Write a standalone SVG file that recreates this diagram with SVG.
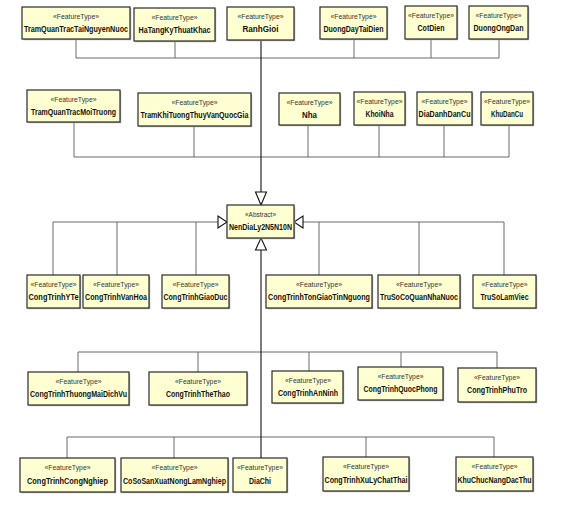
<svg xmlns="http://www.w3.org/2000/svg" width="576" height="507" viewBox="0 0 576 507">
<style>
.box{fill:#FFFFD2;stroke:#2a2a2a;stroke-width:1.2}
.sh{fill:#b0b0b0}
.st{font-family:"Liberation Sans Narrow","Arial Narrow","Liberation Sans",sans-serif;font-size:8px;fill:#333;text-anchor:middle}
.nm{font-family:"Liberation Sans Narrow","Arial Narrow","Liberation Sans",sans-serif;font-size:9.5px;font-weight:bold;fill:#111;text-anchor:middle}
.ln{fill:none;stroke:#6a6a6a;stroke-width:1}
.tr{fill:none;stroke:#111;stroke-width:1.1}
.ah{fill:#fff;stroke:#111;stroke-width:1.1}
</style>
<rect width="576" height="507" fill="#fff"/>
<g id="connectors">
<path class="ln" d="M76 39V58H499M175 41V58M354 39V58M431 39V58M499 39V58"/>
<path class="ln" d="M74 122V157H509M194 126V157M308 125V157M379 125V157M444 125V157M509 125V157"/>
<path class="ln" d="M53 275V222H218M117 275V222M196 275V222M303 222H504V275M319 222V275M419 222V275"/>
<path class="ln" d="M78 372V352H497V368M198 372V352M309 371V352M401 367V352"/>
<path class="ln" d="M67 458V437H494V457M174 458V437M366 457V437"/>
<path class="tr" d="M261 40V192M261 250V458"/>
<polygon class="ah" points="255.5,192 266.5,192 261,205"/>
<polygon class="ah" points="255.5,250 266.5,250 261,238"/>
<polygon class="ah" points="218,216 218,228 227,222"/>
<polygon class="ah" points="303,216 303,228 294,222"/>
</g>
<g id="TramQuanTracTaiNguyenNuoc"><rect class="sh" x="23.2" y="8.2" width="108" height="32"/><rect class="box" x="22" y="7" width="108" height="32"/><text class="st" x="76" y="18.5" textLength="46" lengthAdjust="spacingAndGlyphs">«FeatureType»</text><text class="nm" x="76" y="32" textLength="104" lengthAdjust="spacingAndGlyphs">TramQuanTracTaiNguyenNuoc</text></g>
<g id="HaTangKyThuatKhac"><rect class="sh" x="135.2" y="9.2" width="81" height="33"/><rect class="box" x="134" y="8" width="81" height="33"/><text class="st" x="174.5" y="19.5" textLength="46" lengthAdjust="spacingAndGlyphs">«FeatureType»</text><text class="nm" x="174.5" y="33" textLength="72" lengthAdjust="spacingAndGlyphs">HaTangKyThuatKhac</text></g>
<g id="RanhGioi"><rect class="sh" x="228.2" y="8.2" width="67" height="33"/><rect class="box" x="227" y="7" width="67" height="33"/><text class="st" x="260.5" y="18.5" textLength="46" lengthAdjust="spacingAndGlyphs">«FeatureType»</text><text class="nm" x="260.5" y="32" textLength="36" lengthAdjust="spacingAndGlyphs">RanhGioi</text></g>
<g id="DuongDayTaiDien"><rect class="sh" x="321.2" y="8.2" width="67" height="32"/><rect class="box" x="320" y="7" width="67" height="32"/><text class="st" x="353.5" y="18.5" textLength="46" lengthAdjust="spacingAndGlyphs">«FeatureType»</text><text class="nm" x="353.5" y="32" textLength="60" lengthAdjust="spacingAndGlyphs">DuongDayTaiDien</text></g>
<g id="CotDien"><rect class="sh" x="406.2" y="7.2" width="52" height="33"/><rect class="box" x="405" y="6" width="52" height="33"/><text class="st" x="431" y="17.5" textLength="46" lengthAdjust="spacingAndGlyphs">«FeatureType»</text><text class="nm" x="431" y="31" textLength="27" lengthAdjust="spacingAndGlyphs">CotDien</text></g>
<g id="DuongOngDan"><rect class="sh" x="470.2" y="7.2" width="59" height="33"/><rect class="box" x="469" y="6" width="59" height="33"/><text class="st" x="498.5" y="17.5" textLength="46" lengthAdjust="spacingAndGlyphs">«FeatureType»</text><text class="nm" x="498.5" y="31" textLength="50" lengthAdjust="spacingAndGlyphs">DuongOngDan</text></g>
<g id="TramQuanTracMoiTruong"><rect class="sh" x="28.2" y="91.2" width="93" height="32"/><rect class="box" x="27" y="90" width="93" height="32"/><text class="st" x="73.5" y="101.5" textLength="46" lengthAdjust="spacingAndGlyphs">«FeatureType»</text><text class="nm" x="73.5" y="115" textLength="85" lengthAdjust="spacingAndGlyphs">TramQuanTracMoiTruong</text></g>
<g id="TramKhiTuongThuyVanQuocGia"><rect class="sh" x="139.2" y="94.2" width="113" height="33"/><rect class="box" x="138" y="93" width="113" height="33"/><text class="st" x="194.5" y="104.5" textLength="46" lengthAdjust="spacingAndGlyphs">«FeatureType»</text><text class="nm" x="194.5" y="118" textLength="108" lengthAdjust="spacingAndGlyphs">TramKhiTuongThuyVanQuocGia</text></g>
<g id="Nha"><rect class="sh" x="280.2" y="94.2" width="61" height="32"/><rect class="box" x="279" y="93" width="61" height="32"/><text class="st" x="309.5" y="104.5" textLength="46" lengthAdjust="spacingAndGlyphs">«FeatureType»</text><text class="nm" x="309.5" y="118" textLength="15" lengthAdjust="spacingAndGlyphs">Nha</text></g>
<g id="KhoiNha"><rect class="sh" x="355.2" y="93.2" width="51" height="33"/><rect class="box" x="354" y="92" width="51" height="33"/><text class="st" x="379.5" y="103.5" textLength="46" lengthAdjust="spacingAndGlyphs">«FeatureType»</text><text class="nm" x="379.5" y="117" textLength="28" lengthAdjust="spacingAndGlyphs">KhoiNha</text></g>
<g id="DiaDanhDanCu"><rect class="sh" x="418.2" y="93.2" width="55" height="33"/><rect class="box" x="417" y="92" width="55" height="33"/><text class="st" x="444.5" y="103.5" textLength="46" lengthAdjust="spacingAndGlyphs">«FeatureType»</text><text class="nm" x="444.5" y="117" textLength="52" lengthAdjust="spacingAndGlyphs">DiaDanhDanCu</text></g>
<g id="KhuDanCu"><rect class="sh" x="482.2" y="93.2" width="52" height="33"/><rect class="box" x="481" y="92" width="52" height="33"/><text class="st" x="507" y="103.5" textLength="46" lengthAdjust="spacingAndGlyphs">«FeatureType»</text><text class="nm" x="507" y="117" textLength="32" lengthAdjust="spacingAndGlyphs">KhuDanCu</text></g>
<g id="NenDiaLy2N5N10N"><rect class="sh" x="228.2" y="206.2" width="67" height="33"/><rect class="box" x="227" y="205" width="67" height="33"/><text class="st" x="260.5" y="216.5" textLength="31" lengthAdjust="spacingAndGlyphs">«Abstract»</text><text class="nm" x="260.5" y="230" textLength="63" lengthAdjust="spacingAndGlyphs">NenDiaLy2N5N10N</text></g>
<g id="CongTrinhYTe"><rect class="sh" x="28.2" y="276.2" width="53" height="33"/><rect class="box" x="27" y="275" width="53" height="33"/><text class="st" x="53.5" y="286.5" textLength="46" lengthAdjust="spacingAndGlyphs">«FeatureType»</text><text class="nm" x="53.5" y="300" textLength="50" lengthAdjust="spacingAndGlyphs">CongTrinhYTe</text></g>
<g id="CongTrinhVanHoa"><rect class="sh" x="84.2" y="276.2" width="66" height="33"/><rect class="box" x="83" y="275" width="66" height="33"/><text class="st" x="116" y="286.5" textLength="46" lengthAdjust="spacingAndGlyphs">«FeatureType»</text><text class="nm" x="116" y="300" textLength="62" lengthAdjust="spacingAndGlyphs">CongTrinhVanHoa</text></g>
<g id="CongTrinhGiaoDuc"><rect class="sh" x="163.2" y="276.2" width="67" height="33"/><rect class="box" x="162" y="275" width="67" height="33"/><text class="st" x="195.5" y="286.5" textLength="46" lengthAdjust="spacingAndGlyphs">«FeatureType»</text><text class="nm" x="195.5" y="300" textLength="64" lengthAdjust="spacingAndGlyphs">CongTrinhGiaoDuc</text></g>
<g id="CongTrinhTonGiaoTinNguong"><rect class="sh" x="267.2" y="276.2" width="106" height="33"/><rect class="box" x="266" y="275" width="106" height="33"/><text class="st" x="319" y="286.5" textLength="46" lengthAdjust="spacingAndGlyphs">«FeatureType»</text><text class="nm" x="319" y="300" textLength="102" lengthAdjust="spacingAndGlyphs">CongTrinhTonGiaoTinNguong</text></g>
<g id="TruSoCoQuanNhaNuoc"><rect class="sh" x="379.2" y="276.2" width="82" height="33"/><rect class="box" x="378" y="275" width="82" height="33"/><text class="st" x="419" y="286.5" textLength="46" lengthAdjust="spacingAndGlyphs">«FeatureType»</text><text class="nm" x="419" y="300" textLength="78" lengthAdjust="spacingAndGlyphs">TruSoCoQuanNhaNuoc</text></g>
<g id="TruSoLamViec"><rect class="sh" x="474.2" y="276.2" width="63" height="33"/><rect class="box" x="473" y="275" width="63" height="33"/><text class="st" x="504.5" y="286.5" textLength="46" lengthAdjust="spacingAndGlyphs">«FeatureType»</text><text class="nm" x="504.5" y="300" textLength="48" lengthAdjust="spacingAndGlyphs">TruSoLamViec</text></g>
<g id="CongTrinhThuongMaiDichVu"><rect class="sh" x="29.2" y="373.2" width="101" height="33"/><rect class="box" x="28" y="372" width="101" height="33"/><text class="st" x="78.5" y="383.5" textLength="46" lengthAdjust="spacingAndGlyphs">«FeatureType»</text><text class="nm" x="78.5" y="397" textLength="97" lengthAdjust="spacingAndGlyphs">CongTrinhThuongMaiDichVu</text></g>
<g id="CongTrinhTheThao"><rect class="sh" x="150.2" y="373.2" width="98" height="33"/><rect class="box" x="149" y="372" width="98" height="33"/><text class="st" x="198" y="383.5" textLength="46" lengthAdjust="spacingAndGlyphs">«FeatureType»</text><text class="nm" x="198" y="397" textLength="64" lengthAdjust="spacingAndGlyphs">CongTrinhTheThao</text></g>
<g id="CongTrinhAnNinh"><rect class="sh" x="273.2" y="372.2" width="71" height="32"/><rect class="box" x="272" y="371" width="71" height="32"/><text class="st" x="308" y="382.5" textLength="46" lengthAdjust="spacingAndGlyphs">«FeatureType»</text><text class="nm" x="308" y="396" textLength="60" lengthAdjust="spacingAndGlyphs">CongTrinhAnNinh</text></g>
<g id="CongTrinhQuocPhong"><rect class="sh" x="359.2" y="368.2" width="85" height="33"/><rect class="box" x="358" y="367" width="85" height="33"/><text class="st" x="400.5" y="378.5" textLength="46" lengthAdjust="spacingAndGlyphs">«FeatureType»</text><text class="nm" x="400.5" y="392" textLength="74" lengthAdjust="spacingAndGlyphs">CongTrinhQuocPhong</text></g>
<g id="CongTrinhPhuTro"><rect class="sh" x="459.2" y="369.2" width="78" height="34"/><rect class="box" x="458" y="368" width="78" height="34"/><text class="st" x="497" y="379.5" textLength="46" lengthAdjust="spacingAndGlyphs">«FeatureType»</text><text class="nm" x="497" y="393" textLength="60" lengthAdjust="spacingAndGlyphs">CongTrinhPhuTro</text></g>
<g id="CongTrinhCongNghiep"><rect class="sh" x="21.2" y="459.2" width="95" height="34"/><rect class="box" x="20" y="458" width="95" height="34"/><text class="st" x="67.5" y="470" textLength="46" lengthAdjust="spacingAndGlyphs">«FeatureType»</text><text class="nm" x="67.5" y="484" textLength="81" lengthAdjust="spacingAndGlyphs">CongTrinhCongNghiep</text></g>
<g id="CoSoSanXuatNongLamNghiep"><rect class="sh" x="122.2" y="459.2" width="107" height="34"/><rect class="box" x="121" y="458" width="107" height="34"/><text class="st" x="174.5" y="470" textLength="46" lengthAdjust="spacingAndGlyphs">«FeatureType»</text><text class="nm" x="174.5" y="484" textLength="103" lengthAdjust="spacingAndGlyphs">CoSoSanXuatNongLamNghiep</text></g>
<g id="DiaChi"><rect class="sh" x="234.2" y="459.2" width="54" height="34"/><rect class="box" x="233" y="458" width="54" height="34"/><text class="st" x="260" y="470" textLength="46" lengthAdjust="spacingAndGlyphs">«FeatureType»</text><text class="nm" x="260" y="484" textLength="22" lengthAdjust="spacingAndGlyphs">DiaChi</text></g>
<g id="CongTrinhXuLyChatThai"><rect class="sh" x="324.2" y="458.2" width="86" height="34"/><rect class="box" x="323" y="457" width="86" height="34"/><text class="st" x="366" y="469" textLength="46" lengthAdjust="spacingAndGlyphs">«FeatureType»</text><text class="nm" x="366" y="483" textLength="83" lengthAdjust="spacingAndGlyphs">CongTrinhXuLyChatThai</text></g>
<g id="KhuChucNangDacThu"><rect class="sh" x="457.2" y="458.2" width="77" height="34"/><rect class="box" x="456" y="457" width="77" height="34"/><text class="st" x="494.5" y="469" textLength="46" lengthAdjust="spacingAndGlyphs">«FeatureType»</text><text class="nm" x="494.5" y="483" textLength="74" lengthAdjust="spacingAndGlyphs">KhuChucNangDacThu</text></g>
</svg>
